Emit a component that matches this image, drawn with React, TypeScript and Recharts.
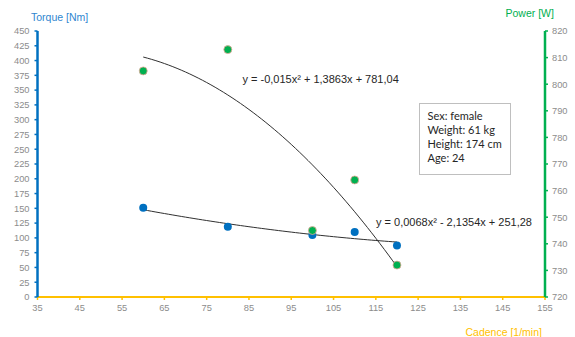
import React from "react";
import { ComposedChart, XAxis, YAxis, Scatter, Line } from "recharts";

// Data
const cadence = [60, 80, 100, 110, 120];
const torque = [151, 119, 105, 110, 87];
const power = [805, 813, 745, 764, 732];

// Trendline coefficients printed on the chart (a, b, c for a*x^2 + b*x + c)
const torqueFit = [0.0068, -2.1354, 251.28];
const powerFit = [-0.015, 1.3863, 781.04];
const trendRange = [60, 120];

const xTicks = [35, 45, 55, 65, 75, 85, 95, 105, 115, 125, 135, 145, 155];
const leftTicks = [0, 25, 50, 75, 100, 125, 150, 175, 200, 225, 250, 275, 300, 325, 350, 375, 400, 425, 450];
const rightTicks = [720, 730, 740, 750, 760, 770, 780, 790, 800, 810, 820];

const infoLines = ["Sex: female", "Weight: 61 kg", "Height: 174 cm", "Age: 24"];
const eqPower = "y = -0,015x\u00B2 + 1,3863x + 781,04";
const eqTorque = "y = 0,0068x\u00B2 - 2,1354x + 251,28";

const torqueData = cadence.map((x, i) => ({ x, y: torque[i] }));
const powerData = cadence.map((x, i) => ({ x, y: power[i] }));

const trend = (c: number[]) => {
  const pts: { x: number; y: number }[] = [];
  for (let x = trendRange[0]; x <= trendRange[1]; x += 1) {
    pts.push({ x, y: c[0] * x * x + c[1] * x + c[2] });
  }
  return pts;
};
const torqueTrend = trend(torqueFit);
const powerTrend = trend(powerFit);

const BLUE = "#0070C0";
const GREEN = "#00B050";
const YELLOW = "#FFC000";
const TICK = "#8C8C8C";
const FONT = "'Liberation Sans', Arial, sans-serif";

const tickStyle = { fill: TICK, fontSize: 9.3, fontFamily: FONT };

const BlueDot = (p: any) => <circle cx={p.cx} cy={p.cy} r={4} fill={BLUE} />;
const GreenDot = (p: any) => (
  <circle cx={p.cx} cy={p.cy} r={4} fill={GREEN} stroke="#E8A898" strokeWidth={0.8} />
);

const abs = (left: number, top: number, extra: React.CSSProperties = {}): React.CSSProperties => ({
  position: "absolute",
  left,
  top,
  whiteSpace: "nowrap",
  lineHeight: 1,
  fontFamily: FONT,
  ...extra,
});

export default function App() {
  return (
    <div style={{ position: "absolute", left: 0, top: 0, width: 575, height: 337, background: "#fff" }}>
      <ComposedChart width={575} height={337} margin={{ top: 31, right: 0, bottom: 0, left: 0 }}>
        <XAxis
          dataKey="x"
          type="number"
          domain={[35, 155]}
          ticks={xTicks}
          allowDataOverflow
          height={40}
          stroke={YELLOW}
          strokeWidth={2}
          tickSize={3}
          tickMargin={4}
          tickLine={{ stroke: YELLOW, strokeWidth: 1.5 }}
          tick={tickStyle}
          interval={0}
        />
        <YAxis
          yAxisId="left"
          dataKey="y"
          orientation="left"
          domain={[0, 450]}
          ticks={leftTicks}
          allowDataOverflow
          width={37.5}
          stroke={BLUE}
          strokeWidth={2.5}
          tickSize={3}
          tickMargin={5}
          tickLine={{ stroke: BLUE, strokeWidth: 1.5 }}
          tick={tickStyle}
          interval={0}
        />
        <YAxis
          yAxisId="right"
          dataKey="y"
          orientation="right"
          domain={[720, 820]}
          ticks={rightTicks}
          allowDataOverflow
          width={30}
          stroke={GREEN}
          strokeWidth={2.5}
          tickSize={3}
          tickMargin={4}
          tickLine={{ stroke: GREEN, strokeWidth: 1.5 }}
          tick={tickStyle}
          interval={0}
        />
        <Line
          yAxisId="left"
          data={torqueTrend}
          dataKey="y"
          type="linear"
          stroke="#303030"
          strokeWidth={1}
          dot={false}
          activeDot={false}
          isAnimationActive={false}
        />
        <Line
          yAxisId="right"
          data={powerTrend}
          dataKey="y"
          type="linear"
          stroke="#303030"
          strokeWidth={1}
          dot={false}
          activeDot={false}
          isAnimationActive={false}
        />
        <Scatter yAxisId="left" data={torqueData} dataKey="y" shape={BlueDot} isAnimationActive={false} />
        <Scatter yAxisId="right" data={powerData} dataKey="y" shape={GreenDot} isAnimationActive={false} />
      </ComposedChart>

      <div style={abs(31, 11.5, { fontSize: 10.5, color: "#2F86CF" })}>Torque [Nm]</div>
      <div style={abs(505.5, 7.5, { fontSize: 10.5, color: GREEN })}>Power [W]</div>
      <div style={abs(465.5, 326.5, { fontSize: 10.5, color: YELLOW })}>Cadence [1/min]</div>

      <div style={abs(242.5, 73.5, { fontSize: 11, color: "#262626" })}>{eqPower}</div>
      <div style={abs(376, 217, { fontSize: 11, color: "#262626" })}>{eqTorque}</div>

      <div
        style={{
          position: "absolute",
          left: 419,
          top: 102.5,
          width: 92,
          height: 72.5,
          boxSizing: "border-box",
          border: "1px solid #BFBFBF",
          background: "#fff",
          paddingLeft: 7.5,
          paddingTop: 5,
          fontFamily: "Lato, 'Open Sans', sans-serif",
          fontSize: 11,
          lineHeight: "14px",
          color: "#262626",
        }}
      >
        {infoLines.map((t) => (
          <div key={t} style={{ whiteSpace: "nowrap" }}>
            {t}
          </div>
        ))}
      </div>
    </div>
  );
}
